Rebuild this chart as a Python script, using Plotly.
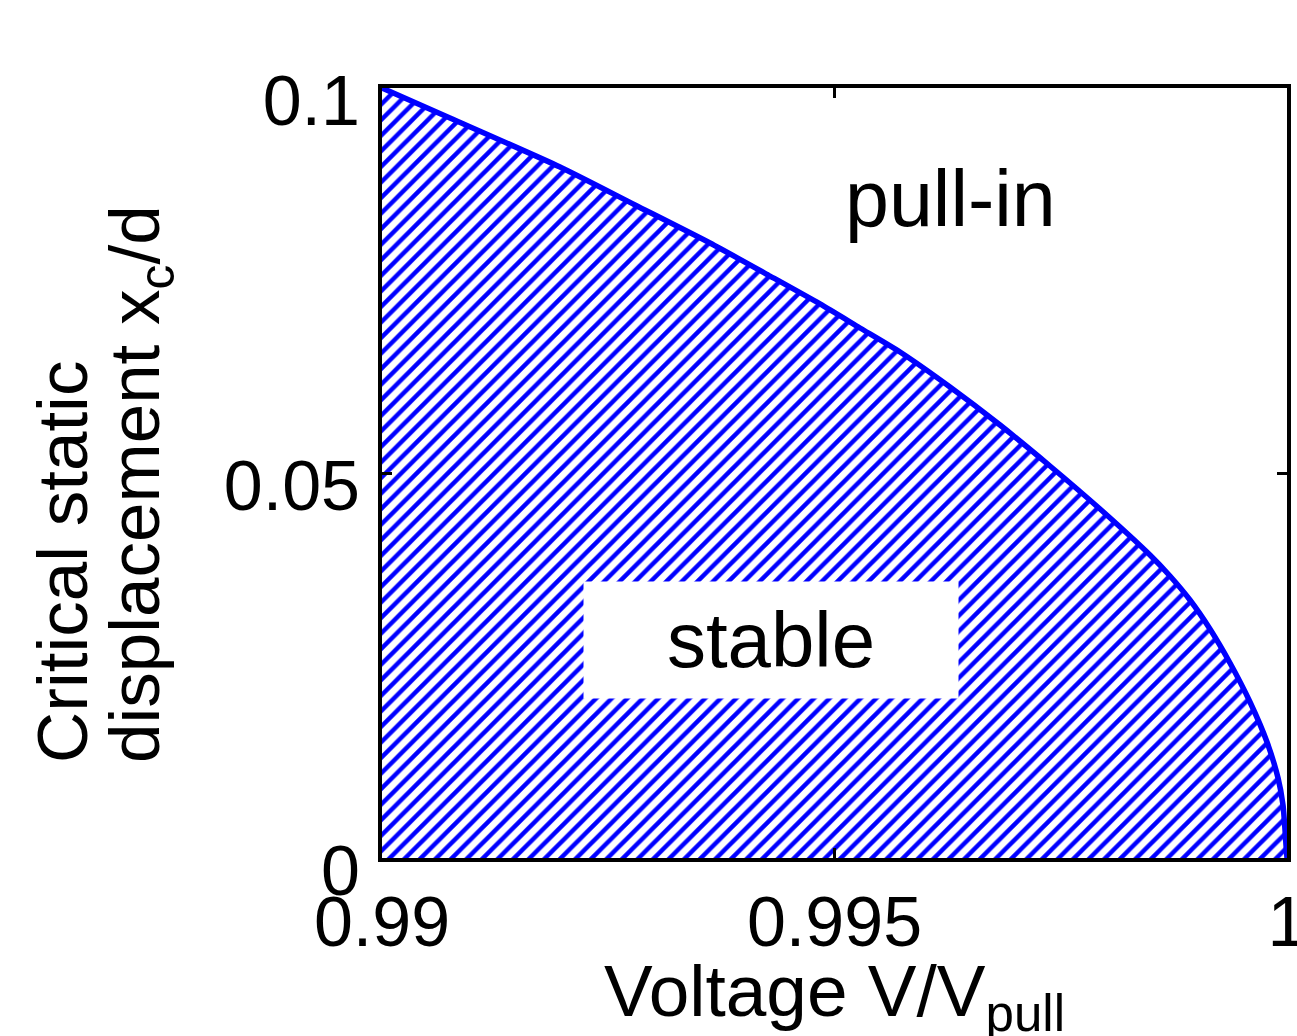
import plotly.graph_objects as go

# Critical static displacement curve
voltage = [0.990000, 0.990751, 0.991967, 0.992796, 0.993624, 0.994287,
           0.994840, 0.995282, 0.995724, 0.996276, 0.996829, 0.997381,
           0.997934, 0.998486, 0.998707, 0.998928, 0.999149, 0.999370,
           0.999591, 0.999779, 0.999901, 0.999956, 0.999978, 0.999989,
           1.000000]
x_crit = [0.10000, 0.09610, 0.08974, 0.08481, 0.07987, 0.07558,
          0.07195, 0.06883, 0.06571, 0.06117, 0.05623, 0.05091,
          0.04532, 0.03935, 0.03662, 0.03351, 0.02974, 0.02532,
          0.02026, 0.01506, 0.01039, 0.00688, 0.00364, 0.00169,
          0.00000]

x_tickvals = [0.99, 0.995, 1.0]
x_ticktext = ["0.99", "0.995", "1"]
y_tickvals = [0, 0.05, 0.1]
y_ticktext = ["0", "0.05", "0.1"]

FONT = "Liberation Sans, Arial, Helvetica, sans-serif"
W, H = 1297, 1036
L, R, T, B = 382, 10, 88, 178

fig = go.Figure()
fig.add_trace(go.Scatter(
    x=voltage, y=x_crit, mode="lines",
    line=dict(color="#0000ff", width=5.5, shape="spline", smoothing=0.6),
    fill="tozeroy", fillcolor="white",
    fillpattern=dict(shape="/", fgcolor="#0000ff", bgcolor="white",
                     fgopacity=1, fillmode="replace",
                     size=11, solidity=0.4),
    showlegend=False, hoverinfo="skip",
))

def px2paper_x(px):
    return (px - L) / (W - L - R)

def px2paper_y(py):
    return (H - B - py) / (H - T - B)

annotations = [
    dict(x=0.99430, y=0.02831, xref="x", yref="y", text="stable",
         showarrow=False, bgcolor="white", borderpad=0, width=374, height=116,
         font=dict(family=FONT, size=78, color="black")),
    dict(x=0.99628, y=0.0857, xref="x", yref="y", text="pull-in",
         showarrow=False, font=dict(family=FONT, size=79, color="black")),
    dict(x=0.5, y=px2paper_y(996), xref="paper", yref="paper",
         text="Voltage V/V<sub>pull</sub>", showarrow=False,
         xanchor="center", yanchor="middle",
         font=dict(family=FONT, size=73, color="black")),
    dict(x=px2paper_x(62), y=px2paper_y(765), xref="paper", yref="paper",
         text="Critical static", showarrow=False, textangle=-90,
         xanchor="center", yanchor="bottom",
         font=dict(family=FONT, size=71, color="black")),
    dict(x=px2paper_x(93), y=px2paper_y(765), xref="paper", yref="paper",
         text="displacement x<sub>c</sub>/d", showarrow=False, textangle=-90,
         xanchor="left", yanchor="bottom",
         font=dict(family=FONT, size=71, color="black")),
]

axis_common = dict(
    showline=True, linecolor="black", linewidth=4, mirror="ticks",
    ticks="inside", ticklen=10, tickwidth=3, tickcolor="black",
    showgrid=False, zeroline=False, ticklabeloverflow="allow",
    automargin=False,
    tickfont=dict(family=FONT, size=70, color="black"),
)

fig.update_layout(
    width=W, height=H,
    margin=dict(l=L, r=R, t=T, b=B),
    paper_bgcolor="white", plot_bgcolor="white",
    xaxis=dict(range=[0.99, 1.0], tickvals=x_tickvals, ticktext=x_ticktext,
               ticklabelstandoff=0, **axis_common),
    yaxis=dict(range=[0, 0.1], tickvals=y_tickvals, ticktext=y_ticktext,
               ticklabelstandoff=4, ticklabelshift=12, **axis_common),
    annotations=annotations,
    showlegend=False,
)

fig.write_html("out.html")
